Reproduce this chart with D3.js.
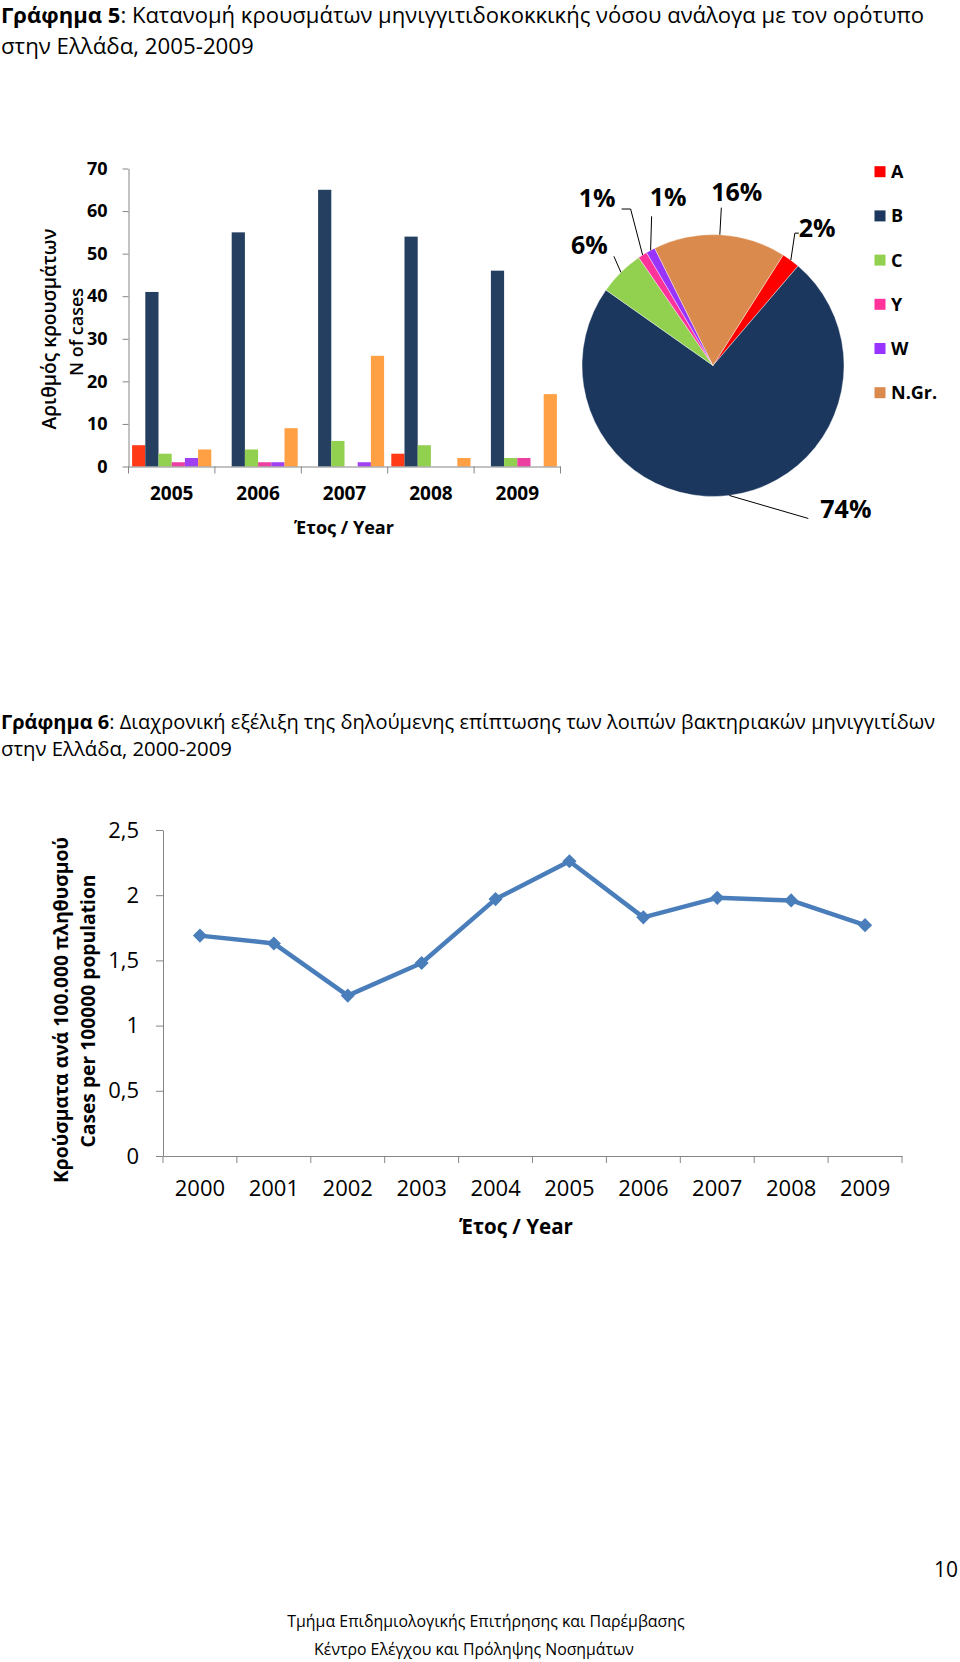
<!DOCTYPE html>
<html><head><meta charset="utf-8">
<script src="https://cdn.jsdelivr.net/npm/d3@7"></script>
<style>body{margin:0;background:#fff}svg{display:block}</style>
</head><body>
<svg id="c" width="960" height="1662"></svg>
<script>
// ---------------- DATA ----------------
const serotypes = ["A", "B", "C", "Y", "W", "N.Gr."];
const barYears = ["2005", "2006", "2007", "2008", "2009"];
const casesA   = [5, 0, 0, 3, 0];
const casesB   = [41, 55, 65, 54, 46];
const casesC   = [3, 4, 6, 5, 2];
const casesY   = [1, 1, 0, 0, 2];
const casesW   = [2, 1, 1, 0, 0];
const casesNGr = [4, 9, 26, 2, 17];
const pieLabels = ["2%", "74%", "6%", "1%", "1%", "16%"];
const barTicks = [0, 10, 20, 30, 40, 50, 60, 70];

const lineYears = ["2000","2001","2002","2003","2004","2005","2006","2007","2008","2009"];
const incidence = [1.69, 1.63, 1.23, 1.48, 1.97, 2.26, 1.83, 1.98, 1.96, 1.77];
const lineTicks = [0, 0.5, 1, 1.5, 2, 2.5];

// ---------------- STYLE ----------------
const FONT = "'Open Sans', 'Noto Sans', sans-serif";
const barColors = ["#FF3A17", "#243F60", "#92D050", "#EC3FA2", "#A040F0", "#FFA045"];
const pieColors = ["#FF0000", "#1C375E", "#92D050", "#FF3399", "#9933FF", "#D98A4C"];
const axisGrey = "#868686";
const lineBlue = "#4A7EBB";

const svg = d3.select("#c");
const seriesList = [casesA, casesB, casesC, casesY, casesW, casesNGr];

function fit(sel, w) {
  const l = sel.node().getComputedTextLength();
  const fs = parseFloat(sel.attr("font-size"));
  sel.attr("font-size", fs * w / l);
  return sel;
}
function styleAxis(g) {
  g.selectAll(".domain").attr("stroke", axisGrey).attr("stroke-width", 1);
  g.selectAll(".tick line").attr("stroke", axisGrey).attr("stroke-width", 1);
  g.selectAll("text").attr("fill", "#000").attr("font-family", FONT);
}

// ---------------- TITLES ----------------
function title(y, bold, rest, width, size) {
  const t = svg.append("text").attr("x", 1).attr("y", y)
    .attr("font-family", FONT).attr("font-size", size).attr("fill", "#000");
  if (bold) t.append("tspan").attr("font-weight", "bold").text(bold);
  t.append("tspan").text(rest);
  if (width) fit(t, width);
  return t;
}
title(23, "Γράφημα 5", ": Κατανομή κρουσμάτων μηνιγγιτιδοκοκκικής νόσου ανάλογα με τον ορότυπο", 924, 20);
title(54, null, "στην Ελλάδα, 2005-2009", 253, 20);
title(729, "Γράφημα 6", ": Διαχρονική εξέλιξη της δηλούμενης επίπτωσης των λοιπών βακτηριακών μηνιγγιτίδων", 935, 19);
title(756, null, "στην Ελλάδα, 2000-2009", 231, 19);

// ---------------- BAR CHART ----------------
const bx0 = d3.scaleBand().domain(barYears).range([128.5, 560.5]);
const bx1 = d3.scaleBand().domain(serotypes).range([3.6, bx0.bandwidth() - 3.6]);
const by = d3.scaleLinear().domain([0, 70]).range([466.5, 168.5]);

const barG = svg.append("g");
serotypes.forEach((s, si) => {
  barG.selectAll(null).data(barYears.map((yr, i) => ({yr, v: seriesList[si][i]})))
    .enter().append("rect")
    .attr("x", d => bx0(d.yr) + bx1(s))
    .attr("width", bx1.bandwidth())
    .attr("y", d => by(d.v))
    .attr("height", d => by(0) - by(d.v))
    .attr("fill", barColors[si]);
});

const byAxis = svg.append("g").attr("transform", `translate(${bx0.range()[0]},0)`)
  .call(d3.axisLeft(by).tickValues(barTicks).tickSize(6).tickPadding(15).tickSizeOuter(0));
styleAxis(byAxis);
byAxis.selectAll("text").attr("font-size", 18).attr("font-weight", "bold");

const bxAxis = svg.append("g").attr("transform", `translate(0,${by(0)})`)
  .call(d3.axisBottom(bx0).tickSize(0).tickPadding(20).tickSizeOuter(0));
styleAxis(bxAxis);
bxAxis.selectAll("text").attr("font-size", 19).attr("font-weight", "bold");
bxAxis.selectAll(".bt").data(d3.range(barYears.length + 1)).enter().append("line")
  .attr("x1", i => bx0.range()[0] + i * bx0.step()).attr("x2", i => bx0.range()[0] + i * bx0.step())
  .attr("y1", 0).attr("y2", 7).attr("stroke", axisGrey);

fit(svg.append("text").attr("x", 344).attr("y", 534).attr("text-anchor", "middle")
  .attr("font-family", FONT).attr("font-weight", "bold").attr("font-size", 18).text("Έτος / Year"), 100);

fit(svg.append("text").attr("transform", "translate(56,329) rotate(-90)").attr("text-anchor", "middle")
  .attr("font-family", FONT).attr("font-weight", 600).attr("font-size", 18).text("Αριθμός κρουσμάτων"), 201);
fit(svg.append("text").attr("transform", "translate(83,332) rotate(-90)").attr("text-anchor", "middle")
  .attr("font-family", FONT).attr("font-weight", 600).attr("font-size", 18).text("N of cases"), 88);

// ---------------- PIE ----------------
const totals = seriesList.map(a => d3.sum(a));
const pieData = serotypes.map((s, i) => ({s, v: totals[i], label: pieLabels[i], c: pieColors[i]}));
const cx = 713, cy = 365.5, R = 131;
const a0 = 32.4 * Math.PI / 180;
const pie = d3.pie().sort(null).value(d => d.v).startAngle(a0).endAngle(a0 + 2 * Math.PI);
const arcs = pie(pieData);
const arc = d3.arc().innerRadius(0).outerRadius(R);
const pieG = svg.append("g").attr("transform", `translate(${cx},${cy})`);
pieG.selectAll("path").data(arcs).enter().append("path")
  .attr("d", arc).attr("fill", d => d.data.c).attr("stroke", "#fff").attr("stroke-width", 0.4);

const labelLayout = [
  {pts: [[4, -27], [8, -27]], tx: 8, ty: -23, anchor: "start"},   // A
  {pts: [[79, 23]], tx: 91, ty: 23, anchor: "start"},              // B
  {pts: [[-7, -16]], tx: -13, ty: -18, anchor: "end"},             // C
  {pts: [[-12, -46], [-21, -46]], tx: -27, ty: -48, anchor: "end"},// Y
  {pts: [[1, -34]], tx: 17.5, ty: -44, anchor: "middle"},          // W
  {pts: [[1.5, -27]], tx: 17, ty: -34, anchor: "middle"}           // N.Gr.
];
arcs.forEach((d, i) => {
  const m = (d.startAngle + d.endAngle) / 2;
  const ex = Math.sin(m) * R, ey = -Math.cos(m) * R;
  const L = labelLayout[i];
  const pts = [[ex, ey]].concat(L.pts.map(p => [ex + p[0], ey + p[1]]));
  pieG.append("path").attr("d", d3.line()(pts)).attr("fill", "none")
    .attr("stroke", "#000").attr("stroke-width", 1);
  pieG.append("text").attr("x", ex + L.tx).attr("y", ey + L.ty).attr("text-anchor", L.anchor)
    .attr("font-family", FONT).attr("font-weight", "bold").attr("font-size", 25).text(d.data.label);
});

const lg = svg.append("g");
const ly = d3.scalePoint().domain(serotypes).range([171.7, 392.7]);
lg.selectAll("rect").data(pieData).enter().append("rect")
  .attr("x", 874.5).attr("y", d => ly(d.s) - 5.5).attr("width", 11).attr("height", 11).attr("fill", d => d.c);
lg.selectAll("text").data(pieData).enter().append("text")
  .attr("x", 891).attr("y", d => ly(d.s) + 6.5)
  .attr("font-family", FONT).attr("font-weight", "bold").attr("font-size", 18).text(d => d.s);

// ---------------- LINE CHART ----------------
const lx = d3.scaleBand().domain(lineYears).range([163, 902]);
const ly2 = d3.scaleLinear().domain([0, 2.5]).range([1156, 830]);
const loc = d3.formatLocale({decimal: ",", thousands: ".", grouping: [3], currency: ["", "€"]});
const fmt = loc.format("~g");

const lyAxis = svg.append("g").attr("transform", `translate(${lx.range()[0]},0)`)
  .call(d3.axisLeft(ly2).tickValues(lineTicks).tickFormat(fmt).tickSize(7).tickPadding(17).tickSizeOuter(0));
styleAxis(lyAxis);
lyAxis.selectAll("text").attr("font-size", 22);

const lxAxis = svg.append("g").attr("transform", `translate(0,${ly2(0)})`)
  .call(d3.axisBottom(lx).tickSize(0).tickPadding(24).tickSizeOuter(0));
styleAxis(lxAxis);
lxAxis.selectAll("text").attr("font-size", 22);
lxAxis.selectAll(".bt").data(d3.range(lineYears.length + 1)).enter().append("line")
  .attr("x1", i => lx.range()[0] + i * lx.step()).attr("x2", i => lx.range()[0] + i * lx.step())
  .attr("y1", 0).attr("y2", 7).attr("stroke", axisGrey);

const pts = lineYears.map((yr, i) => [lx(yr) + lx.bandwidth() / 2, ly2(incidence[i])]);
svg.append("path").attr("d", d3.line()(pts)).attr("fill", "none")
  .attr("stroke", lineBlue).attr("stroke-width", 4.5).attr("stroke-linejoin", "round");
svg.selectAll(".mk").data(pts).enter().append("path")
  .attr("d", d3.symbol(d3.symbolSquare, 100)())
  .attr("transform", d => `translate(${d[0]},${d[1]}) rotate(45)`)
  .attr("fill", lineBlue);

fit(svg.append("text").attr("x", 516).attr("y", 1234).attr("text-anchor", "middle")
  .attr("font-family", FONT).attr("font-weight", "bold").attr("font-size", 21).text("Έτος / Year"), 114);
fit(svg.append("text").attr("transform", "translate(68,1010) rotate(-90)").attr("text-anchor", "middle")
  .attr("font-family", FONT).attr("font-weight", "bold").attr("font-size", 20).text("Κρούσματα ανά 100.000 πληθυσμού"), 346);
fit(svg.append("text").attr("transform", "translate(95,1011) rotate(-90)").attr("text-anchor", "middle")
  .attr("font-family", FONT).attr("font-weight", "bold").attr("font-size", 20).text("Cases per 100000 population"), 273);

// ---------------- FOOTER ----------------
svg.append("text").attr("x", 958).attr("y", 1577).attr("text-anchor", "end")
  .attr("font-family", FONT).attr("font-size", 21).text("10");
fit(svg.append("text").attr("x", 486).attr("y", 1627).attr("text-anchor", "middle")
  .attr("font-family", FONT).attr("font-size", 17).text("Τμήμα Επιδημιολογικής Επιτήρησης και Παρέμβασης"), 398);
fit(svg.append("text").attr("x", 474).attr("y", 1655).attr("text-anchor", "middle")
  .attr("font-family", FONT).attr("font-size", 17).text("Κέντρο Ελέγχου και Πρόληψης Νοσημάτων"), 320);
</script>
</body></html>
